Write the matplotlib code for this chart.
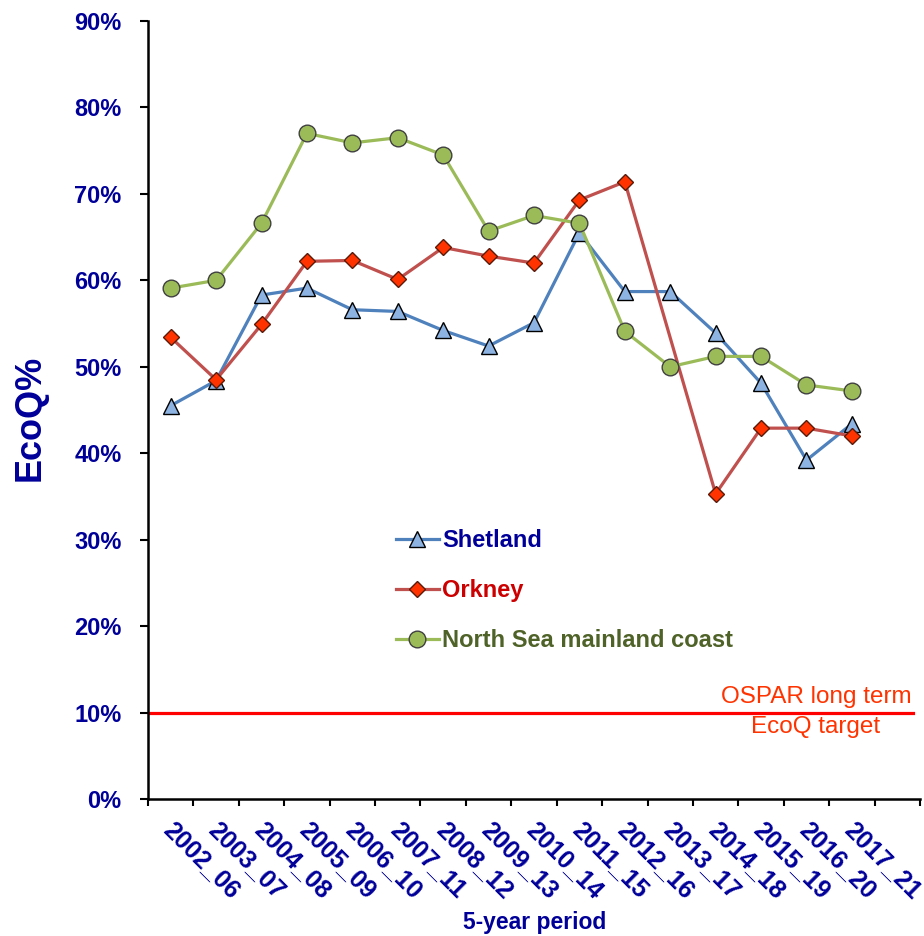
import numpy as np
import matplotlib
matplotlib.use("Agg")
import matplotlib.pyplot as plt
import matplotlib.transforms as mtransforms

plt.rcParams['font.family'] = ['Liberation Sans', 'DejaVu Sans']

periods = ["2002_06", "2003_07", "2004_08", "2005_09", "2006_10", "2007_11", "2008_12",
           "2009_13", "2010_14", "2011_15", "2012_16", "2013_17", "2014_18", "2015_19",
           "2016_20", "2017_21"]
shetland = [45.5, 48.4, 58.3, 59.1, 56.6, 56.4, 54.2, 52.4, 55.1, 65.5, 58.7, 58.7,
            53.9, 48.1, 39.2, 43.4]
orkney = [53.4, 48.5, 54.9, 62.2, 62.3, 60.1, 63.8, 62.8, 62.0, 69.3, 71.4, None,
          35.3, 42.9, 42.9, 42.0]
north_sea = [59.1, 60.0, 66.6, 77.0, 75.9, 76.5, 74.5, 65.7, 67.5, 66.6, 54.1, 50.0,
             51.2, 51.2, 47.9, 47.2]
target = 10.0
yticks = [0, 10, 20, 30, 40, 50, 60, 70, 80, 90]

navy = '#000099'

fig = plt.figure(figsize=(9.24, 9.36), dpi=100)
ax = fig.add_axes([148/924, 1-799/936, (920-148)/924, (799-21)/936])

x = np.arange(len(periods))

def plot_series(vals, color, mfc, mec, marker, ms, label):
    v = np.array([np.nan if a is None else a for a in vals], dtype=float)
    ok = ~np.isnan(v)
    ax.plot(x[ok], v[ok], color=color, lw=2.3, marker=marker, ms=ms, mfc=mfc,
            mec=mec, mew=1.0, label=label, zorder=3)

plot_series(shetland, '#4F81BD', '#8DB3E2', '#000000', '^', 11, 'Shetland')
plot_series(orkney, '#C0504D', '#FF3300', '#5a1a0a', 'D', 8.5, 'Orkney')
plot_series(north_sea, '#9BBB59', '#9BBB59', '#404040', 'o', 12, 'North Sea mainland coast')

ax.axhline(target, xmin=0, xmax=(913-148)/772, color='#FF0000', lw=2.3, zorder=2)
fig.text(816/924, 1-697/936, "OSPAR long term", color='#FF3300', fontsize=17.5,
         ha='center', va='center')
fig.text(816/924, 1-727/936, "EcoQ target", color='#FF3300', fontsize=17.5,
         ha='center', va='center')

ax.set_xlim(-0.5, 16.5)
ax.set_ylim(0, 90)
ax.set_yticks(yticks)
ax.set_yticklabels([f"{t}%" for t in yticks], color=navy, fontsize=17, fontweight='bold')
ax.set_xticks(np.arange(-0.5, 17, 1.0))
ax.set_xticklabels([])
ax.tick_params(axis='y', direction='out', length=6, width=1.5, pad=13)
ax.tick_params(axis='x', direction='out', length=5, width=1.5)
for s in ['top', 'right']:
    ax.spines[s].set_visible(False)
for s in ['left', 'bottom']:
    ax.spines[s].set_linewidth(1.8)

for i, p in enumerate(periods):
    trans = mtransforms.offset_copy(ax.get_xaxis_transform(), fig=fig, x=5, y=-18, units='dots')
    ax.text(i, 0, p, transform=trans, rotation=-45, rotation_mode='anchor',
            ha='left', va='top', color=navy, fontsize=18, fontweight='bold')

fig.text(535/924, 1-922/936, "5-year period", color=navy, fontsize=16.5,
         fontweight='bold', ha='center', va='center')
fig.text(30/924, 1-418/936, "EcoQ%", color=navy, fontsize=26,
         fontweight='bold', ha='center', va='center', rotation=90)

leg = ax.legend(loc='upper left', bbox_to_anchor=(396/924, 1-529/936),
                bbox_transform=fig.transFigure, frameon=False, fontsize=17,
                handlelength=1.8, handletextpad=0.15, labelspacing=1.15,
                borderpad=0, borderaxespad=0)
for txt, c in zip(leg.get_texts(), [navy, '#CC0000', '#4F6228']):
    txt.set_color(c)
    txt.set_fontweight('bold')

fig.savefig('out.png', dpi=100)
